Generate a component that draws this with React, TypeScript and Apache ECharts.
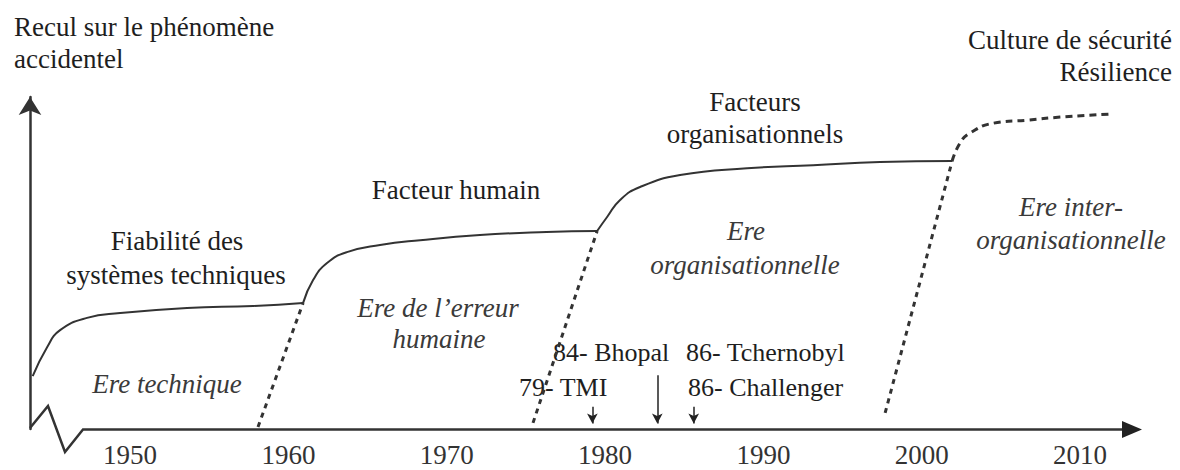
import React, { useEffect, useRef } from "react";
import * as echarts from "echarts";

// X axis: years; Y axis: "recul sur le phénomène accidentel" (arbitrary 0–100 scale)
const tickYears = [1950, 1960, 1970, 1980, 1990, 2000, 2010];

const curveTechnique: [number, number][] = [
  [1943.85, 15.5], [1944.76, 24.0], [1945.58, 29.0], [1947.28, 32.6],
  [1949.37, 34.0], [1953.6, 35.5], [1957.77, 36.1], [1960.93, 37.0],
];
const curveHumain: [number, number][] = [
  [1960.93, 37.0], [1961.56, 43.7], [1962.44, 48.7], [1963.7, 51.9],
  [1965.79, 54.0], [1968.32, 55.4], [1972.1, 56.9], [1976.3, 57.8], [1979.5, 58.1],
];
const curveOrga: [number, number][] = [
  [1979.5, 58.1], [1980.13, 62.2], [1980.95, 67.2], [1982.21, 71.0],
  [1984.74, 74.5], [1988.97, 76.5], [1993.14, 77.4], [1997.37, 78.3], [2001.92, 78.6],
];
const curveResilience: [number, number][] = [
  [2001.92, 78.6], [2002.42, 83.9], [2003.05, 86.8], [2004.5, 89.7],
  [2006.65, 90.6], [2008.74, 91.5], [2011.9, 92.4],
];

const eraBoundaries: [number, number][][] = [
  [[1958.08, 0.6], [1960.93, 37.0]],
  [[1975.45, 1.8], [1979.5, 58.1]],
  [[1997.69, 4.7], [2001.92, 78.6]],
];

// accident markers: [year position, arrow top]
const eventNames = ["79- TMI", "84- Bhopal", "86- Challenger"];
const eventYears = [1979.2, 1983.3, 1985.6];
const eventTops = [6.5, 15.8, 6.5];

const FONT = "Liberation Serif";

function txt(text: string, x: number, y: number, align: string, italic = false, fill = "#1e1e1e", size = 27) {
  return {
    type: "text",
    x,
    y,
    silent: true,
    style: {
      text,
      fontSize: size,
      fontFamily: FONT,
      fontStyle: italic ? "italic" : "normal",
      fill,
      align,
      verticalAlign: "middle",
    },
  };
}

export default function App() {
  const ref = useRef<HTMLDivElement>(null);
  useEffect(() => {
    if (!ref.current) return;
    const chart = echarts.init(ref.current, undefined, { renderer: "svg" });
    const solid = (data: [number, number][], name: string) => ({
      name,
      type: "line",
      data,
      smooth: 0.5,
      showSymbol: false,
      symbol: "none",
      lineStyle: { color: "#333", width: 2 },
      silent: true,
    });
    const dotted = (data: [number, number][], name: string) => ({
      name,
      type: "line",
      data,
      showSymbol: false,
      symbol: "none",
      lineStyle: { color: "#333", width: 3, type: [5, 5] },
      silent: true,
    });
    const italicGrey = "#3a3a3a";
    chart.setOption({
      animation: false,
      backgroundColor: "#fff",
      grid: { left: 30, right: 39, top: 97, bottom: 41 },
      xAxis: {
        type: "value",
        min: 1943.68,
        max: 2013.85,
        axisLine: { show: false },
        axisTick: { show: false },
        splitLine: { show: false },
        axisLabel: {
          customValues: tickYears,
          formatter: (v: number) => String(v),
          fontSize: 27,
          fontFamily: FONT,
          color: "#333",
          margin: 12,
        },
      },
      yAxis: {
        type: "value",
        min: 0,
        max: 97.4,
        axisLine: {
          show: true,
          onZero: false,
          symbol: ["none", "arrow"],
          symbolSize: [17, 18],
          lineStyle: { color: "#333", width: 2.5 },
        },
        axisTick: { show: false },
        axisLabel: { show: false },
        splitLine: { show: false },
      },
      series: [
        solid(curveTechnique, "technique"),
        solid(curveHumain, "humain"),
        solid(curveOrga, "orga"),
        {
          ...solid(curveResilience, "resilience"),
          lineStyle: { color: "#333", width: 3, type: [7, 5] },
        },
        ...eraBoundaries.map((d, i) => dotted(d, "b" + i)),
        {
          name: "events",
          type: "line",
          data: [],
          markLine: {
            silent: true,
            symbol: ["none", "arrow"],
            symbolSize: [8, 10],
            label: { show: false },
            lineStyle: { color: "#222", width: 1.5, type: "solid" },
            data: eventYears.map((y, i) => [
              { coord: [y, eventTops[i]] },
              { coord: [y, 1.6] },
            ]),
          },
        },
      ],
      graphic: [
        {
          type: "polyline",
          silent: true,
          shape: { points: [[30, 428], [48, 406], [65, 452], [83, 429.5], [1126, 429.5]] },
          style: { stroke: "#333", lineWidth: 2.5, fill: null },
        },
        {
          type: "polygon",
          silent: true,
          shape: { points: [[1122, 421], [1142, 429.5], [1122, 438]] },
          style: { fill: "#222" },
        },
        txt("Recul sur le phénomène", 14, 27, "left"),
        txt("accidentel", 14, 59, "left"),
        txt("Culture de sécurité", 1172, 40, "right"),
        txt("Résilience", 1172, 72, "right"),
        txt("Facteurs", 755, 102, "center"),
        txt("organisationnels", 755, 134, "center"),
        txt("Facteur humain", 456, 190, "center"),
        txt("Fiabilité des", 177, 241, "center"),
        txt("systèmes techniques", 176, 275, "center"),
        txt("Ere technique", 167, 384, "center", true, italicGrey),
        txt("Ere de l\u2019erreur", 438, 308, "center", true, italicGrey),
        txt("humaine", 439, 339, "center", true, italicGrey),
        txt("Ere", 746, 231, "center", true, italicGrey),
        txt("organisationnelle", 745, 265, "center", true, italicGrey),
        txt("Ere inter-", 1071, 207, "center", true, italicGrey),
        txt("organisationnelle", 1071, 240, "center", true, italicGrey),
        txt(eventNames[1], 553, 352, "left", false, "#1e1e1e", 26),
        txt("86- Tchernobyl", 686, 352, "left", false, "#1e1e1e", 26),
        txt(eventNames[0], 519, 387, "left", false, "#1e1e1e", 26),
        txt(eventNames[2], 688, 387, "left", false, "#1e1e1e", 26),
      ],
    });
    return () => chart.dispose();
  }, []);
  return (
    <div
      ref={ref}
      style={{ position: "fixed", left: 0, top: 0, width: 1180, height: 470, background: "#fff" }}
    />
  );
}
